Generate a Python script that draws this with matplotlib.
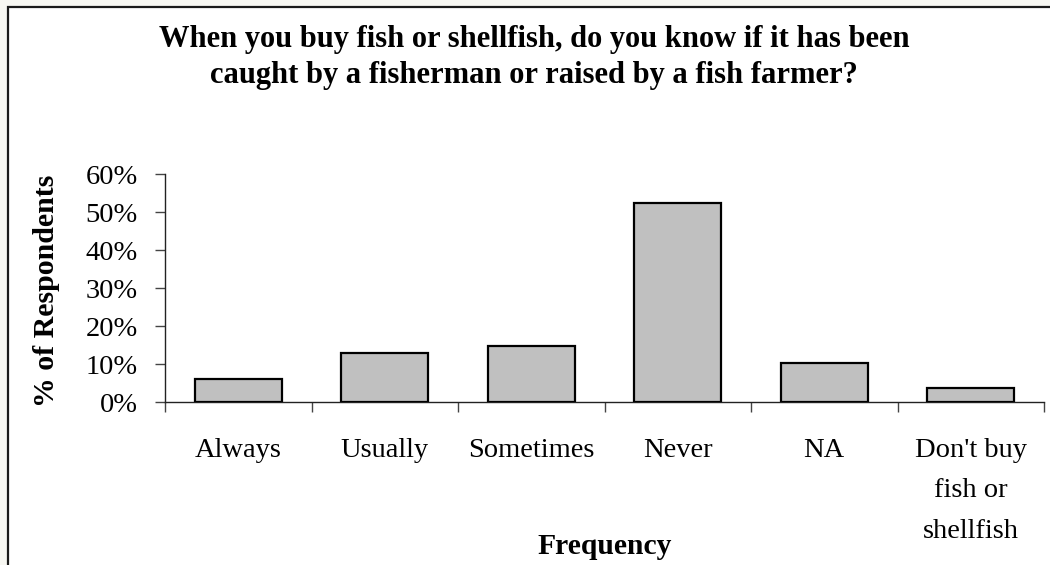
import matplotlib.pyplot as plt
from matplotlib.patches import Rectangle
from matplotlib.ticker import FuncFormatter, FixedLocator
import numpy as np

plt.rcParams['font.family'] = ['Liberation Serif', 'DejaVu Serif']

categories = ["Always", "Usually", "Sometimes", "Never", "NA",
              "Don't buy\nfish or\nshellfish"]
percent = [6.1, 13.0, 14.7, 52.3, 10.3, 3.6]
title = ("When you buy fish or shellfish, do you know if it has been\n"
         "caught by a fisherman or raised by a fish farmer?")

W, H = 1050, 565
fig = plt.figure(figsize=(W / 100, H / 100), dpi=100)
fig.patch.set_facecolor('#f7f7f2')

# white chart area with a dark frame (runs off the right and bottom edges)
frame = Rectangle((7.5 / W, -0.05), 1.1, 1 - 6.5 / H + 0.05,
                  transform=fig.transFigure, facecolor='white',
                  edgecolor='#1a1a1a', linewidth=1.6, zorder=-5)
fig.patches.append(frame)

ax = fig.add_axes([165 / W, 1 - 402 / H, (1044 - 165) / W, (402 - 174) / H])
ax.set_facecolor('none')
ax.set_zorder(2)

x = np.arange(len(categories))
ax.bar(x, np.array(percent) / 100, width=0.594, color='#c0c0c0',
       edgecolor='black', linewidth=1.6, zorder=3)

ax.set_xlim(-0.5, len(categories) - 0.5)
ax.set_ylim(0, 0.6)
ax.set_yticks(np.arange(0, 0.61, 0.1))
ax.yaxis.set_major_formatter(FuncFormatter(lambda v, _: f"{v * 100:.0f}%"))

ax.set_xticks(x)
ax.set_xticklabels(categories, linespacing=1.8, va='top')
ax.xaxis.set_minor_locator(FixedLocator(np.arange(-0.5, len(categories), 1.0)))

ax.tick_params(axis='y', direction='out', length=7.5, width=1.0,
               color='#444444', labelsize=20.5, pad=12)
ax.tick_params(axis='x', which='major', length=0, labelsize=20.5, pad=26)
ax.tick_params(axis='x', which='minor', direction='out', length=7.5,
               width=1.0, color='#444444')

for side in ['top', 'right']:
    ax.spines[side].set_visible(False)
for side in ['left', 'bottom']:
    ax.spines[side].set_linewidth(1.0)
    ax.spines[side].set_color('#222222')

fig.text(534 / W, 1 - 40 / H, title.split('\n')[0], ha='center', va='center',
         fontsize=22, fontweight='bold')
fig.text(534 / W, 1 - 75 / H, title.split('\n')[1], ha='center', va='center',
         fontsize=22, fontweight='bold')
fig.text(47 / W, 1 - 291 / H, "% of Respondents", rotation=90, ha='center',
         va='center', fontsize=21.5, fontweight='bold')
fig.text(605 / W, 1 - 547 / H, "Frequency", ha='center', va='center',
         fontsize=21.3, fontweight='bold')

fig.savefig('out.png', dpi=100, facecolor=fig.get_facecolor())
